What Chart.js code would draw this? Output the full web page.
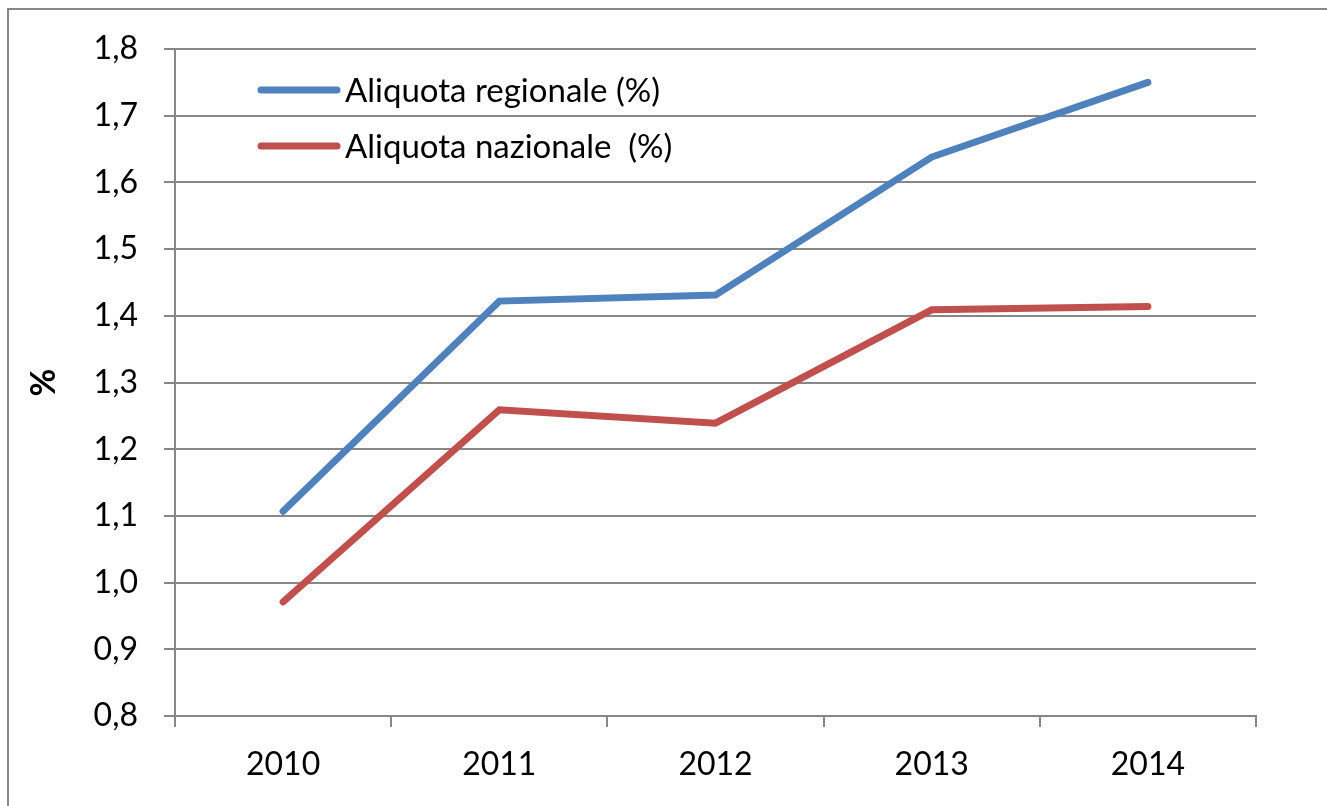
<!DOCTYPE html>
<html>
<head>
<meta charset="utf-8">
<script src="https://cdn.jsdelivr.net/npm/chart.js@4"></script>
<style>
  html, body { margin: 0; padding: 0; background: #fff; }
  #wrap { width: 1327px; height: 806px; }
</style>
</head>
<body>
<div id="wrap"><canvas id="chart" width="1327" height="806"></canvas></div>
<script>
const anni = ['2010', '2011', '2012', '2013', '2014'];
const regionale = [1.107, 1.422, 1.431, 1.638, 1.75];
const nazionale = [0.971, 1.259, 1.239, 1.409, 1.414];
const yTicks = [0.8, 0.9, 1.0, 1.1, 1.2, 1.3, 1.4, 1.5, 1.6, 1.7, 1.8];

const FONT = 'Lato, "Open Sans", sans-serif';
const GRIGIO = '#878787';

// cornice esterna grigia
const cornice = {
  id: 'cornice',
  beforeDraw(chart) {
    const c = chart.ctx;
    c.save();
    c.strokeStyle = GRIGIO;
    c.lineWidth = 2;
    c.strokeRect(8, 9, 1400, 900);
    c.restore();
  }
};

// legenda dentro l'area del grafico
const legendaInterna = {
  id: 'legendaInterna',
  afterDatasetsDraw(chart) {
    const c = chart.ctx;
    const a = chart.chartArea;
    c.save();
    chart.data.datasets.forEach((ds, i) => {
      const y = a.top + 41 + i * 56;
      const x0 = a.left + 86;
      c.strokeStyle = ds.borderColor;
      c.lineWidth = 7;
      c.lineCap = 'round';
      c.beginPath();
      c.moveTo(x0, y);
      c.lineTo(x0 + 76, y);
      c.stroke();
      c.fillStyle = '#000';
      c.font = '33px ' + FONT;
      c.textBaseline = 'middle';
      c.fillText(ds.label, x0 + 84, y + 1);
    });
    c.restore();
  }
};

new Chart(document.getElementById('chart'), {
  type: 'line',
  data: {
    labels: anni,
    datasets: [
      {
        label: 'Aliquota regionale (%)',
        data: regionale,
        borderColor: '#4F81BD',
        backgroundColor: '#4F81BD',
        borderWidth: 7,
        borderCapStyle: 'round',
        pointRadius: 0,
        tension: 0
      },
      {
        label: 'Aliquota nazionale  (%)',
        data: nazionale,
        borderColor: '#C0504D',
        backgroundColor: '#C0504D',
        borderWidth: 7,
        borderCapStyle: 'round',
        pointRadius: 0,
        tension: 0
      }
    ]
  },
  options: {
    responsive: false,
    animation: false,
    layout: { padding: { left: 0, top: 49, right: 71, bottom: 0 } },
    plugins: {
      legend: { display: false },
      tooltip: { enabled: false }
    },
    scales: {
      x: {
        offset: true,
        grid: { offset: true, drawOnChartArea: false, drawTicks: true, tickLength: 11, color: GRIGIO, lineWidth: 2 },
        border: { color: GRIGIO, width: 2 },
        ticks: { color: '#000', font: { family: FONT, size: 32 }, padding: 18, maxRotation: 0 },
        afterFit: s => { s.height = 90; }
      },
      y: {
        min: 0.8,
        max: 1.8,
        afterBuildTicks: s => { s.ticks = yTicks.map(v => ({ value: v })); },
        grid: { color: GRIGIO, lineWidth: 2, tickLength: 11 },
        border: { color: GRIGIO, width: 2 },
        ticks: {
          color: '#000',
          font: { family: FONT, size: 32 },
          padding: 26,
          callback: v => v.toFixed(1).replace('.', ',')
        },
        title: {
          display: true,
          text: '%',
          color: '#000',
          font: { family: FONT, size: 34, weight: 'bold' },
          padding: { top: 24, bottom: 0 }
        },
        afterFit: s => { s.width = 175; }
      }
    }
  },
  plugins: [cornice, legendaInterna]
});
</script>
</body>
</html>
